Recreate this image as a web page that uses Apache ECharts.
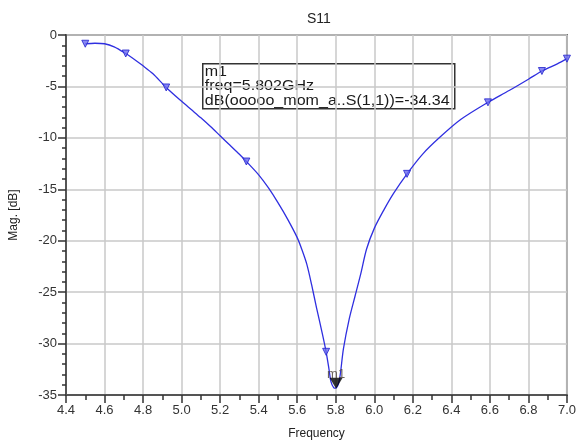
<!DOCTYPE html>
<html>
<head>
<meta charset="utf-8">
<script src="https://cdn.jsdelivr.net/npm/echarts@6/dist/echarts.min.js"></script>
<style>html,body{margin:0;padding:0;background:#fff;}#c{width:579px;height:445px;}</style>
</head>
<body>
<div id="c"></div>
<script>
// Frequency (GHz) and S11 (dB) of the trace
var freq = [4.50, 4.55, 4.60, 4.65, 4.71, 4.75, 4.80, 4.85, 4.92, 5.00, 5.05, 5.10, 5.15, 5.20, 5.25, 5.30, 5.336,
            5.40, 5.45, 5.50, 5.55, 5.60, 5.625, 5.65, 5.675, 5.70, 5.73, 5.75, 5.765, 5.775, 5.79, 5.80, 5.81, 5.818, 5.825,
            5.84, 5.87, 5.90, 5.93, 5.96, 6.00, 6.05, 6.10, 6.17, 6.25, 6.34, 6.45, 6.59, 6.70, 6.80, 6.87, 6.95, 7.00];
var s11 = [-0.85, -0.80, -0.85, -1.15, -1.8, -2.3, -3.0, -3.75, -5.1, -6.45, -7.25, -8.05, -8.9, -9.8, -10.7, -11.6, -12.3,
           -13.6, -14.85, -16.3, -17.9, -19.7, -20.9, -22.3, -24.3, -26.5, -29.0, -30.8, -32.5, -33.7, -34.3, -34.34, -34.1, -33.6, -32.8,
           -30.5, -27.6, -25.4, -23.2, -20.8, -18.8, -17.0, -15.4, -13.5, -11.6, -9.95, -8.2, -6.55, -5.4, -4.3, -3.5, -2.8, -2.3];
// Trace symbols (small triangles)
var symFreq = [4.50, 4.71, 4.92, 5.336, 5.75, 6.17, 6.59, 6.87, 7.00];
var symS11 = [-0.85, -1.8, -5.1, -12.3, -30.8, -13.5, -6.55, -3.5, -2.3];
// Marker m1
var m1Freq = [5.802];
var m1Val = [-34.34];
var boxLines = ['m1', 'freq=5.802GHz', 'dB(ooooo_mom_a..S(1,1))=-34.348'];

var font = '"Liberation Sans", Arial, sans-serif';
var lineData = freq.map(function (f, i) { return [f, s11[i]]; });
var symData = symFreq.map(function (f, i) { return [f, symS11[i]]; });
var m1Data = m1Freq.map(function (f, i) { return [f, m1Val[i]]; });

var chart = echarts.init(document.getElementById('c'), null, {renderer: 'canvas'});
chart.setOption({
  animation: false,
  backgroundColor: '#fff',
  title: {
    text: 'S11', left: 302, top: 7,
    textStyle: {fontFamily: font, fontSize: 14, fontWeight: 'normal', color: '#222'}
  },
  grid: {left: 65, right: 9, top: 35, bottom: 46, show: true, borderColor: '#707070', borderWidth: 2, containLabel: false},
  xAxis: {
    type: 'value', min: 4.4, max: 7.0, interval: 0.2,
    name: 'Frequency', nameLocation: 'middle', nameGap: 33,
    nameTextStyle: {fontFamily: font, fontSize: 12, color: '#222'},
    axisLine: {show: true, onZero: false, lineStyle: {color: '#555', width: 2}},
    axisTick: {show: true, length: 8, lineStyle: {color: '#333', width: 1.5}},
    minorTick: {show: true, splitNumber: 2, length: 5, lineStyle: {color: '#333', width: 1.5}},
    axisLabel: {fontFamily: font, fontSize: 13, color: '#333', margin: 9, formatter: function (v) { return v.toFixed(1); }},
    splitLine: {show: true, lineStyle: {color: '#c8c8c8', width: 1.5}}
  },
  yAxis: {
    type: 'value', min: -35, max: 0, interval: 5,
    name: 'Mag. [dB]', nameLocation: 'middle', nameGap: 46, nameRotate: 90,
    nameTextStyle: {fontFamily: font, fontSize: 12, color: '#222'},
    axisLine: {show: true, onZero: false, lineStyle: {color: '#555', width: 2}},
    axisTick: {show: true, length: 8, lineStyle: {color: '#333', width: 1.5}},
    minorTick: {show: true, splitNumber: 5, length: 4, lineStyle: {color: '#333', width: 1.5}},
    axisLabel: {fontFamily: font, fontSize: 13, color: '#333', margin: 9},
    splitLine: {show: true, lineStyle: {color: '#c8c8c8', width: 1.5}}
  },
  series: [
    {
      type: 'line', data: lineData, showSymbol: false, smooth: 0.3,
      lineStyle: {color: '#2f2fe0', width: 1.3}, z: 3
    },
    {
      type: 'scatter', data: symData, symbol: 'triangle', symbolRotate: 180, symbolSize: 7,
      itemStyle: {color: '#6a6af0', borderColor: '#2222cc', borderWidth: 1}, z: 4
    },
    {
      type: 'scatter', data: m1Data, symbol: 'triangle', symbolRotate: 180, symbolSize: [13, 11],
      symbolOffset: [0, -5],
      itemStyle: {color: '#000'}, z: 5,
      label: {show: true, formatter: 'm1', position: 'top', distance: -3,
        fontFamily: font, fontSize: 13, color: '#4a4038'}
    }
  ],
  graphic: [{
    type: 'group', left: 202, top: 63, z: 100,
    children: [
      {type: 'rect', shape: {x: 0, y: 0, width: 252, height: 45},
        style: {fill: '#fff', stroke: '#333', lineWidth: 1.5}},
      {type: 'text', x: 2, y: 0.5, scaleX: 1.07, style: {text: boxLines.join('\n'), font: '15px ' + font, fill: '#1a1a1a', lineHeight: 14.5,
        width: 233, overflow: 'truncate', ellipsis: ''}}
    ]
  }]
});
</script>
</body>
</html>
